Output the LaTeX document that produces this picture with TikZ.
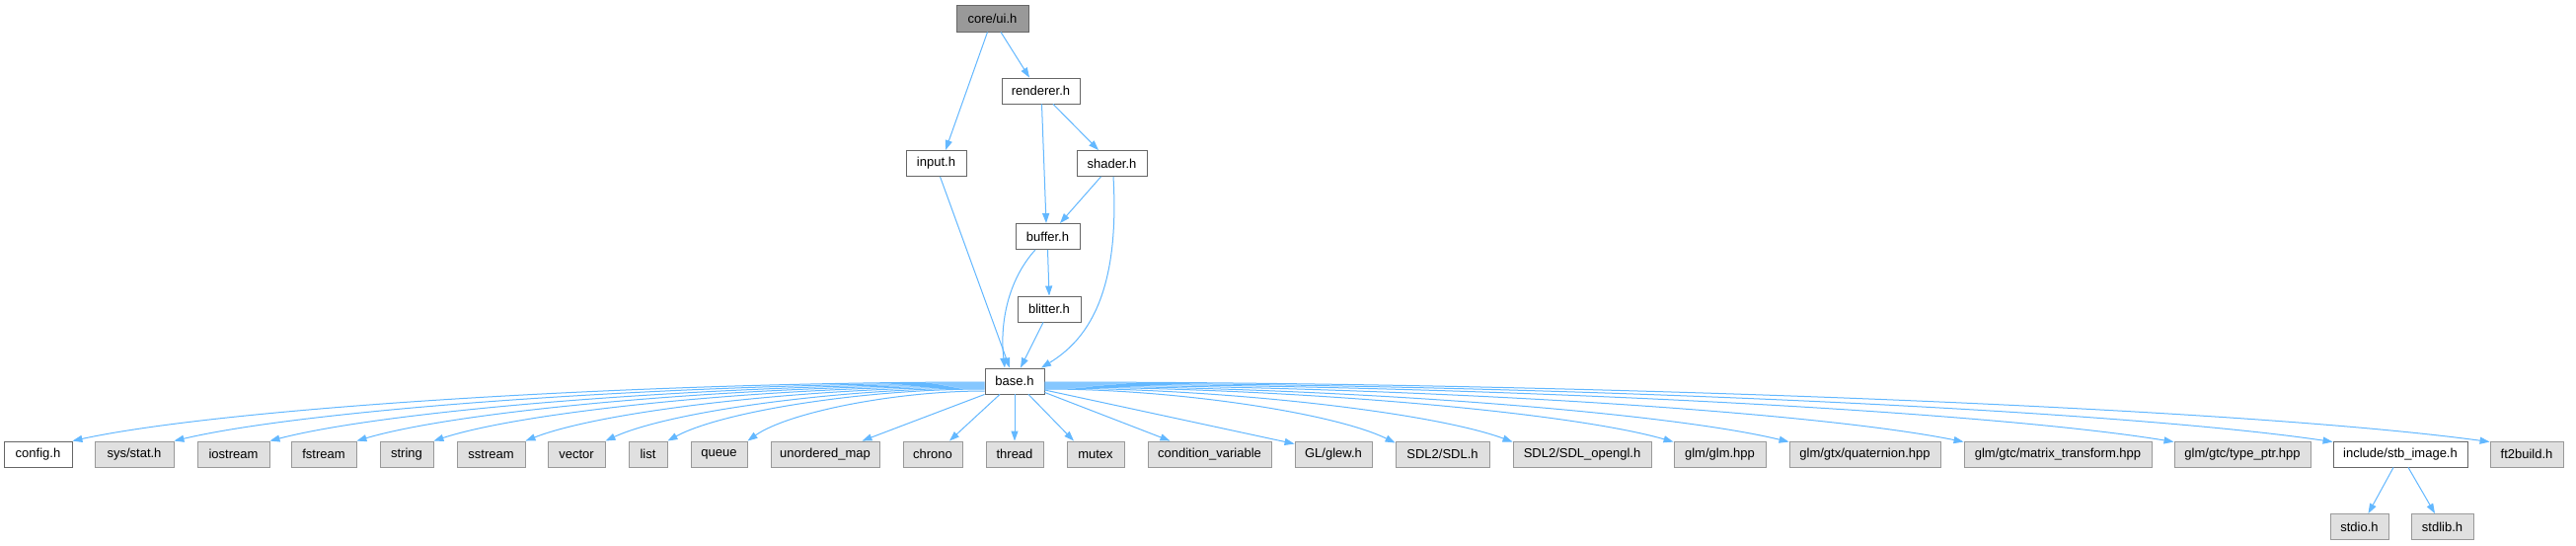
\documentclass[tikz,border=0pt]{standalone}
\usepackage{fontspec}
\setmainfont{Liberation Sans}
\usetikzlibrary{arrows.meta}
\definecolor{edgeblue}{HTML}{63B8FF}
\definecolor{extfill}{HTML}{E0E0E0}
\definecolor{extdraw}{HTML}{999999}
\definecolor{intdraw}{HTML}{666666}
\definecolor{rootfill}{HTML}{999999}
\begin{document}
\begin{tikzpicture}[x=1pt,y=-1pt,
 every node/.style={font=\fontsize{13}{15}\selectfont, inner sep=0pt, minimum height=26pt},
 ext/.style={draw=extdraw, fill=extfill, line width=0.9pt},
 intn/.style={draw=intdraw, fill=white, line width=0.9pt},
 rootn/.style={draw=intdraw, fill=rootfill, line width=0.9pt},
 dep/.style={draw=edgeblue, line width=1pt, -{Triangle[length=10pt,width=7pt]}}]
\fill[white] (0,0) rectangle (2610,552);
\useasboundingbox (0,0) rectangle (2610,552);
% upper nodes
\node[rootn, minimum width=73pt, minimum height=27pt] (ui) at (1005.5,18.5) {core/ui.h};
\node[intn, minimum width=79pt] (renderer) at (1054.5,92) {renderer.h};
\node[intn, minimum width=61pt] (input) at (948.5,165.5) {input.h};
\node[intn, minimum width=71pt] (shader) at (1126.5,165.5) {shader.h};
\node[intn, minimum width=65pt] (buffer) at (1061.5,239.5) {buffer.h};
\node[intn, minimum width=64pt] (blitter) at (1063,313) {blitter.h};
\node[intn, minimum width=60pt] (base) at (1028,386) {base.h};
% bottom row
\node[intn, minimum width=69pt] (config) at (38.5,460) {config.h};
\node[ext, minimum width=80pt] (sysstat) at (136,460) {sys/stat.h};
\node[ext, minimum width=73pt] (iostream) at (236.5,460) {iostream};
\node[ext, minimum width=66pt] (fstream) at (328,460) {fstream};
\node[ext, minimum width=54pt] (string) at (412,460) {string};
\node[ext, minimum width=69pt] (sstream) at (497.5,460) {sstream};
\node[ext, minimum width=58pt] (vector) at (584,460) {vector};
\node[ext, minimum width=39pt] (list) at (656.5,460) {list};
\node[ext, minimum width=57pt] (queue) at (728.5,460) {queue};
\node[ext, minimum width=110pt] (umap) at (836,460) {unordered\_map};
\node[ext, minimum width=60pt] (chrono) at (945,460) {chrono};
\node[ext, minimum width=58pt] (thread) at (1028,460) {thread};
\node[ext, minimum width=58pt] (mutex) at (1110,460) {mutex};
\node[ext, minimum width=125pt] (condvar) at (1225.5,460) {condition\_variable};
\node[ext, minimum width=78pt] (glew) at (1351,460) {GL/glew.h};
\node[ext, minimum width=95pt] (sdl) at (1461.5,460) {SDL2/SDL.h};
\node[ext, minimum width=140pt] (sdlgl) at (1603,460) {SDL2/SDL\_opengl.h};
\node[ext, minimum width=93pt] (glm) at (1742.5,460) {glm/glm.hpp};
\node[ext, minimum width=153pt] (quat) at (1889.5,460) {glm/gtx/quaternion.hpp};
\node[ext, minimum width=190pt] (mat) at (2085,460) {glm/gtc/matrix\_transform.hpp};
\node[ext, minimum width=138pt] (typeptr) at (2272,460) {glm/gtc/type\_ptr.hpp};
\node[intn, minimum width=136pt] (stb) at (2432,460) {include/stb\_image.h};
\node[ext, minimum width=74pt] (ft2) at (2560,460) {ft2build.h};
\node[ext, minimum width=59pt] (stdio) at (2390.5,533.5) {stdio.h};
\node[ext, minimum width=63pt] (stdlib) at (2474.5,533.5) {stdlib.h};
% upper edges
\draw[dep] ([xshift=-5pt]ui.south) -- ([xshift=9.5pt]input.north);
\draw[dep] ([xshift=8.5pt]ui.south) -- ([xshift=-11.5pt]renderer.north);
\draw[dep] ([xshift=1pt]renderer.south) -- ([xshift=-1.5pt]buffer.north);
\draw[dep] ([xshift=12.5pt]renderer.south) -- ([xshift=-13.5pt]shader.north);
\draw[dep] ([xshift=-11pt]shader.south) -- ([xshift=12.5pt]buffer.north);
\draw[dep] ([xshift=1.5pt]shader.south) .. controls (1135,300) and (1100,345) .. ([xshift=27pt]base.north);
\draw[dep] ([xshift=4pt]input.south) -- ([xshift=-5pt]base.north);
\draw[dep] ([xshift=-12.5pt]buffer.south) .. controls (1020,285) and (1013,330) .. ([xshift=-10pt]base.north);
\draw[dep] (buffer.south) -- (blitter.north);
\draw[dep] ([xshift=-6pt]blitter.south) -- ([xshift=6pt]base.north);
% base to the left
\draw[dep] ([yshift=-1pt]base.west) .. controls +(-348,0) and +(157,-34) .. (config.north east);
\draw[dep] ([yshift=-2pt]base.west) .. controls +(-309,0) and +(140,-33) .. (sysstat.north east);
\draw[dep] ([yshift=-3pt]base.west) .. controls +(-273,0) and +(123,-32) .. (iostream.north east);
\draw[dep] ([yshift=-4pt]base.west) .. controls +(-240,0) and +(108,-32) .. (fstream.north east);
\draw[dep] ([yshift=-5pt]base.west) .. controls +(-210,0) and +(95,-31) .. (string.north east);
\draw[dep] ([yshift=-6pt]base.west) .. controls +(-175,0) and +(79,-31) .. (sstream.north east);
\draw[dep] ([yshift=-7pt]base.west) .. controls +(-145,0) and +(65,-30) .. (vector.north east);
\draw[dep] ([yshift=-8pt]base.west) .. controls +(-121,0) and +(55,-30) .. (list.north east);
\draw[dep] ([yshift=-10pt]base.west) .. controls +(-90,0) and +(41,-29) .. (queue.north east);
\draw[dep] (base.south west) -- ([xshift=-18pt]umap.north east);
\draw[dep] ([xshift=-15pt]base.south) -- ([xshift=17pt]chrono.north);
\draw[dep] (base.south) -- (thread.north);
% base to the right
\draw[dep] ([xshift=14pt]base.south) -- ([xshift=-22pt]mutex.north);
\draw[dep] ([yshift=2pt]base.south east) -- ([xshift=-40pt]condvar.north);
\draw[dep] ([yshift=-9pt]base.east) -- ([yshift=-3pt]glew.north west);
\draw[dep] ([yshift=-8pt]base.east) .. controls +(134,0) and +(-61,-30) .. ([yshift=-2pt]sdl.north west);
\draw[dep] ([yshift=-7pt]base.east) .. controls +(179,0) and +(-81,-30) .. ([yshift=-1pt]sdlgl.north west);
\draw[dep] ([yshift=-6pt]base.east) .. controls +(240,0) and +(-108,-31) .. ([yshift=-1pt]glm.north west);
\draw[dep] ([yshift=-5pt]base.east) .. controls +(284,0) and +(-128,-31) .. ([yshift=-1pt]quat.north west);
\draw[dep] ([yshift=-4pt]base.east) .. controls +(350,0) and +(-158,-32) .. ([yshift=-1pt]mat.north west);
\draw[dep] ([yshift=-3pt]base.east) .. controls +(430,0) and +(-195,-32) .. ([yshift=-1pt]typeptr.north west);
\draw[dep] ([yshift=-2pt]base.east) .. controls +(491,0) and +(-222,-33) .. ([yshift=-1pt]stb.north west);
\draw[dep] ([yshift=-1pt]base.east) .. controls +(551,0) and +(-249,-34) .. ([yshift=-1pt]ft2.north west);
% stb_image
\draw[dep] ([xshift=-7pt]stb.south) -- ([xshift=9pt]stdio.north);
\draw[dep] ([xshift=8pt]stb.south) -- ([xshift=-7.5pt]stdlib.north);
\end{tikzpicture}
\end{document}
